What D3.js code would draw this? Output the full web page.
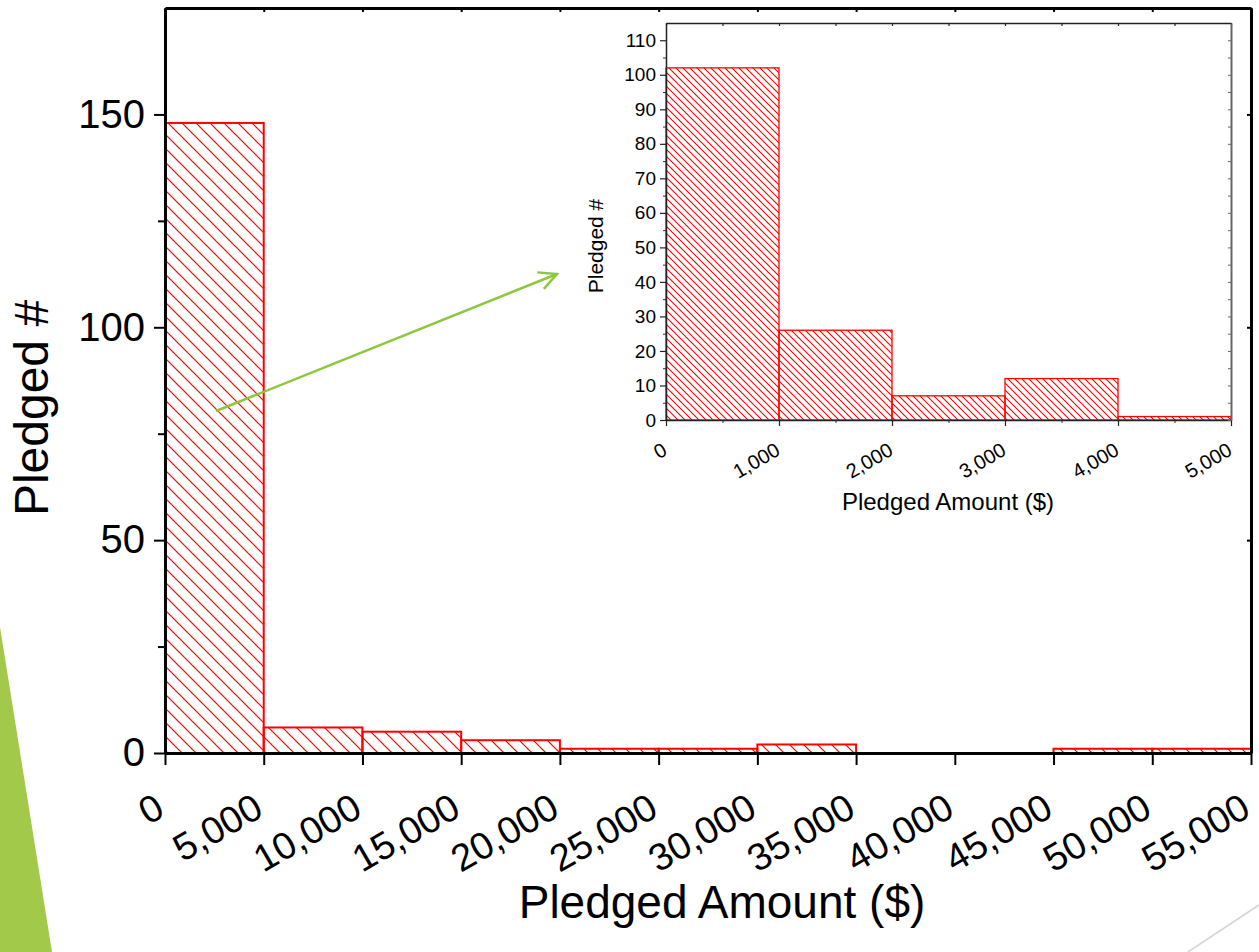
<!DOCTYPE html>
<html>
<head>
<meta charset="utf-8">
<script src="https://d3js.org/d3.v7.min.js"></script>
<style>
  body { margin: 0; background: #fff; }
  svg { display: block; font-family: "Liberation Sans", Arial, sans-serif; }
</style>
</head>
<body>
<div id="chart"></div>
<script>
// Main histogram: bins of $5,000
var mainBinStarts = [0, 5000, 10000, 15000, 20000, 25000, 30000, 35000, 40000, 45000, 50000];
var mainCounts = [148, 6, 5, 3, 1, 1, 2, 0, 0, 1, 1];
var mainBinWidth = 5000;
var mainXTicks = [0, 5000, 10000, 15000, 20000, 25000, 30000, 35000, 40000, 45000, 50000, 55000];
var mainYTicks = [0, 50, 100, 150];

// Inset histogram: bins of $1,000 (0 - 5,000)
var insetBinStarts = [0, 1000, 2000, 3000, 4000];
var insetCounts = [102, 26, 7, 12, 1];
var insetBinWidth = 1000;
var insetXTicks = [0, 1000, 2000, 3000, 4000, 5000];
var insetYTicks = [0, 10, 20, 30, 40, 50, 60, 70, 80, 90, 100, 110];

var svgWidth = 1259;
var svgHeight = 952;

var svg = d3.select("#chart")
  .append("svg")
  .attr("width", svgWidth)
  .attr("height", svgHeight);

// hatch patterns
var defs = svg.append("defs");
function hatch(id, s, w) {
  var p = defs.append("pattern")
    .attr("id", id)
    .attr("patternUnits", "userSpaceOnUse")
    .attr("width", s)
    .attr("height", s);
  p.append("path")
    .attr("d", `M0,0 L${s},${s} M${-s / 2},${s / 2} L${s / 2},${s * 1.5} M${s / 2},${-s / 2} L${s * 1.5},${s / 2}`)
    .attr("stroke", "#ff0000")
    .attr("stroke-width", w);
}
hatch("hatchMain", 14, 1.2);
hatch("hatchInset", 7, 1.1);

// slide decoration
svg.append("polygon")
  .attr("points", "0,627 52,952 0,952")
  .attr("fill", "#a2c94a");
svg.append("line")
  .attr("x1", 1188).attr("y1", 952)
  .attr("x2", 1259).attr("y2", 905)
  .attr("stroke", "#d4d4d4")
  .attr("stroke-width", 1.5);

// ---------- main chart ----------
var main = { left: 165, top: 8, right: 1251, bottom: 753 };
var mw = main.right - main.left;
var mh = main.bottom - main.top;

var xMain = d3.scaleLinear().domain([0, 55000]).range([0, mw]);
var yMain = d3.scaleLinear().domain([0, 175]).range([mh, 0]);

var mainG = svg.append("g")
  .attr("transform", `translate(${main.left}, ${main.top})`);

mainG.selectAll(".bar")
  .data(mainBinStarts.map((d, i) => ({ x0: d, n: mainCounts[i] })).filter(d => d.n > 0))
  .enter()
  .append("rect")
  .attr("x", d => xMain(d.x0))
  .attr("y", d => yMain(d.n))
  .attr("width", d => xMain(d.x0 + mainBinWidth) - xMain(d.x0))
  .attr("height", d => yMain(0) - yMain(d.n))
  .attr("fill", "url(#hatchMain)")
  .attr("stroke", "#ff0000")
  .attr("stroke-width", 2);

// minor y ticks
mainG.append("g")
  .call(d3.axisLeft(yMain).tickValues([25, 75, 125]).tickSize(7).tickFormat(""))
  .call(g => g.select(".domain").remove())
  .selectAll("line").attr("stroke", "#000").attr("stroke-width", 2);

var mainLeft = mainG.append("g")
  .call(d3.axisLeft(yMain).tickValues(mainYTicks).tickSize(11).tickPadding(9).tickSizeOuter(0));
mainLeft.selectAll("text").style("font-size", "40px").attr("fill", "#000");

var mainBottom = mainG.append("g")
  .attr("transform", `translate(0, ${mh})`)
  .call(d3.axisBottom(xMain).tickValues(mainXTicks).tickSize(12).tickSizeOuter(0).tickFormat(d3.format(",")));
mainBottom.selectAll("text")
  .style("font-size", "38px")
  .attr("fill", "#000")
  .attr("text-anchor", "end")
  .attr("x", 0).attr("y", 0).attr("dy", 0)
  .attr("transform", "translate(1, 62) rotate(-30)");

var mainTop = mainG.append("g")
  .call(d3.axisTop(xMain).tickValues(mainXTicks).tickSize(-4).tickSizeOuter(0).tickFormat(""));
var mainRight = mainG.append("g")
  .attr("transform", `translate(${mw}, 0)`)
  .call(d3.axisRight(yMain).tickValues(mainYTicks).tickSize(-4).tickSizeOuter(0).tickFormat(""));

[mainLeft, mainBottom, mainTop, mainRight].forEach(g => {
  g.select(".domain").attr("stroke", "#000").attr("stroke-width", 3);
  g.selectAll("line").attr("stroke", "#000").attr("stroke-width", 2);
});

svg.append("text")
  .attr("transform", "translate(48, 408) rotate(-90)")
  .attr("text-anchor", "middle")
  .style("font-size", "48px")
  .text("Pledged #");

svg.append("text")
  .attr("x", 722)
  .attr("y", 918)
  .attr("text-anchor", "middle")
  .style("font-size", "46px")
  .text("Pledged Amount ($)");

// ---------- inset chart ----------
var inset = { left: 666, top: 23, right: 1231, bottom: 420 };
var iw = inset.right - inset.left;
var ih = inset.bottom - inset.top;

var xInset = d3.scaleLinear().domain([0, 5000]).range([0, iw]);
var yInset = d3.scaleLinear().domain([0, 115]).range([ih, 0]);

var insetG = svg.append("g")
  .attr("transform", `translate(${inset.left}, ${inset.top})`);

insetG.append("rect")
  .attr("width", iw).attr("height", ih)
  .attr("fill", "#fff");

insetG.selectAll(".bar")
  .data(insetBinStarts.map((d, i) => ({ x0: d, n: insetCounts[i] })))
  .enter()
  .append("rect")
  .attr("x", d => xInset(d.x0))
  .attr("y", d => yInset(d.n))
  .attr("width", d => xInset(d.x0 + insetBinWidth) - xInset(d.x0))
  .attr("height", d => yInset(0) - yInset(d.n))
  .attr("fill", "url(#hatchInset)")
  .attr("stroke", "#ff0000")
  .attr("stroke-width", 1.3);

var yMinor = d3.range(5, 115, 10);
var xMinor = d3.range(500, 5000, 1000);

insetG.append("g")
  .call(d3.axisLeft(yInset).tickValues(yMinor).tickSize(3).tickFormat(""))
  .call(g => g.select(".domain").remove())
  .selectAll("line").attr("stroke", "#333");
insetG.append("g")
  .attr("transform", `translate(0, ${ih})`)
  .call(d3.axisBottom(xInset).tickValues(xMinor).tickSize(3).tickFormat(""))
  .call(g => g.select(".domain").remove())
  .selectAll("line").attr("stroke", "#333");

var insetLeft = insetG.append("g")
  .call(d3.axisLeft(yInset).tickValues(insetYTicks).tickSize(6).tickPadding(4).tickSizeOuter(0));
insetLeft.selectAll("text").style("font-size", "19px").attr("fill", "#000");

var insetBottom = insetG.append("g")
  .attr("transform", `translate(0, ${ih})`)
  .call(d3.axisBottom(xInset).tickValues(insetXTicks).tickSize(6).tickSizeOuter(0).tickFormat(d3.format(",")));
insetBottom.selectAll("text")
  .style("font-size", "20px")
  .attr("fill", "#000")
  .attr("text-anchor", "end")
  .attr("x", 0).attr("y", 0).attr("dy", 0)
  .attr("transform", "translate(2, 34) rotate(-30)");

var insetTop = insetG.append("g")
  .call(d3.axisTop(xInset).tickValues(xMinor.concat(insetXTicks)).tickSize(-3).tickSizeOuter(0).tickFormat(""));
var insetRight = insetG.append("g")
  .attr("transform", `translate(${iw}, 0)`)
  .call(d3.axisRight(yInset).tickValues(yMinor.concat(insetYTicks)).tickSize(-3).tickSizeOuter(0).tickFormat(""));

[insetLeft, insetBottom, insetTop].forEach(g => {
  g.select(".domain").attr("stroke", "#222").attr("stroke-width", 1.5);
  g.selectAll("line").attr("stroke", "#222").attr("stroke-width", 1.2);
});
insetRight.select(".domain").attr("stroke", "#666").attr("stroke-width", 2);
insetRight.selectAll("line").attr("stroke", "#666");

svg.append("text")
  .attr("transform", "translate(603, 246) rotate(-90)")
  .attr("text-anchor", "middle")
  .style("font-size", "21px")
  .text("Pledged #");

svg.append("text")
  .attr("x", 948)
  .attr("y", 510)
  .attr("text-anchor", "middle")
  .style("font-size", "24px")
  .text("Pledged Amount ($)");

// green arrow pointing to the inset
defs.append("marker")
  .attr("id", "arrowHead")
  .attr("viewBox", "0 0 12 12")
  .attr("refX", 11).attr("refY", 6)
  .attr("markerWidth", 8.5).attr("markerHeight", 8.5)
  .attr("markerUnits", "strokeWidth")
  .attr("orient", "auto")
  .append("path")
  .attr("d", "M1,1 L11,6 L1,11")
  .attr("fill", "none")
  .attr("stroke", "#8dc63f")
  .attr("stroke-width", 1.4);

svg.append("line")
  .attr("x1", 216).attr("y1", 411)
  .attr("x2", 557).attr("y2", 274)
  .attr("stroke", "#8dc63f")
  .attr("stroke-width", 2.5)
  .attr("marker-end", "url(#arrowHead)");
</script>
</body>
</html>
